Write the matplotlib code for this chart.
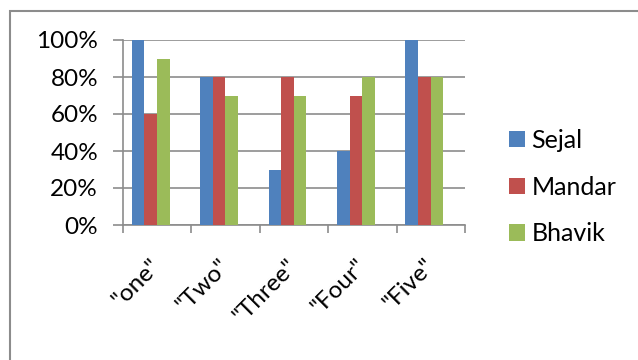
import matplotlib
matplotlib.use("Agg")
import matplotlib.pyplot as plt
import numpy as np
from matplotlib.patches import Rectangle
from matplotlib.ticker import FuncFormatter, FixedLocator

plt.rcParams['font.family'] = ['Lato', 'DejaVu Sans']

categories = ['"one"', '"Two"', '"Three"', '"Four"', '"Five"']
sejal = [1.00, 0.80, 0.30, 0.40, 1.00]
mandar = [0.60, 0.80, 0.80, 0.70, 0.80]
bhavik = [0.90, 0.70, 0.70, 0.80, 0.80]
series_names = ['Sejal', 'Mandar', 'Bhavik']
series_colors = ['#4F81BD', '#C0504D', '#9BBB59']

W, H = 638, 360
fig = plt.figure(figsize=(W / 100, H / 100), dpi=100)

# Chart-area border (runs off the right and bottom edges)
fig.patches.append(Rectangle((9.5 / W, -0.2), 1.2, 1.2 - 11 / H,
                             transform=fig.transFigure, fill=False,
                             edgecolor='#8C8C8C', linewidth=1.5))

ax = fig.add_axes([123 / W, 1 - 225 / H, (465 - 123) / W, (225 - 40) / H])

x = np.arange(len(categories))
bw = 0.185
shift = -0.095
handles = []
for i, (vals, name, col) in enumerate(zip([sejal, mandar, bhavik], series_names, series_colors)):
    h = ax.bar(x + shift + (i - 1) * bw, vals, width=bw, color=col, label=name, zorder=3)
    handles.append(h)

ax.set_xlim(-0.5, len(categories) - 0.5)
ax.set_ylim(0, 1.0)
ax.set_yticks(np.arange(0, 1.01, 0.2))
ax.yaxis.set_major_formatter(FuncFormatter(lambda v, p: f"{v * 100:.0f}%"))
ax.yaxis.grid(True, color='#8C8C8C', linewidth=1.2, zorder=0)
ax.set_axisbelow(True)

ax.set_xticks(x)
ax.set_xticklabels(categories, rotation=45, ha='right', va='center',
                   rotation_mode='anchor', fontsize=17.5)
ax.xaxis.set_minor_locator(FixedLocator(np.arange(-0.5, len(categories), 1.0)))
ax.tick_params(axis='x', which='major', length=0, pad=27)
ax.tick_params(axis='x', which='minor', length=6, width=1.2, color='#8C8C8C')
ax.tick_params(axis='y', which='major', length=7, width=1.2, color='#8C8C8C',
               labelsize=17.5, pad=11)

for side in ['top', 'right']:
    ax.spines[side].set_visible(False)
for side in ['left', 'bottom']:
    ax.spines[side].set_color('#8C8C8C')
    ax.spines[side].set_linewidth(1.2)

fig.legend(handles=handles, labels=series_names, loc='center left',
           bbox_to_anchor=(499 / W, 1 - 187 / H), frameon=False, fontsize=18,
           handlelength=0.62, handleheight=0.62, handletextpad=0.28,
           labelspacing=0.95, borderaxespad=0)

fig.savefig('out.png', dpi=100)
